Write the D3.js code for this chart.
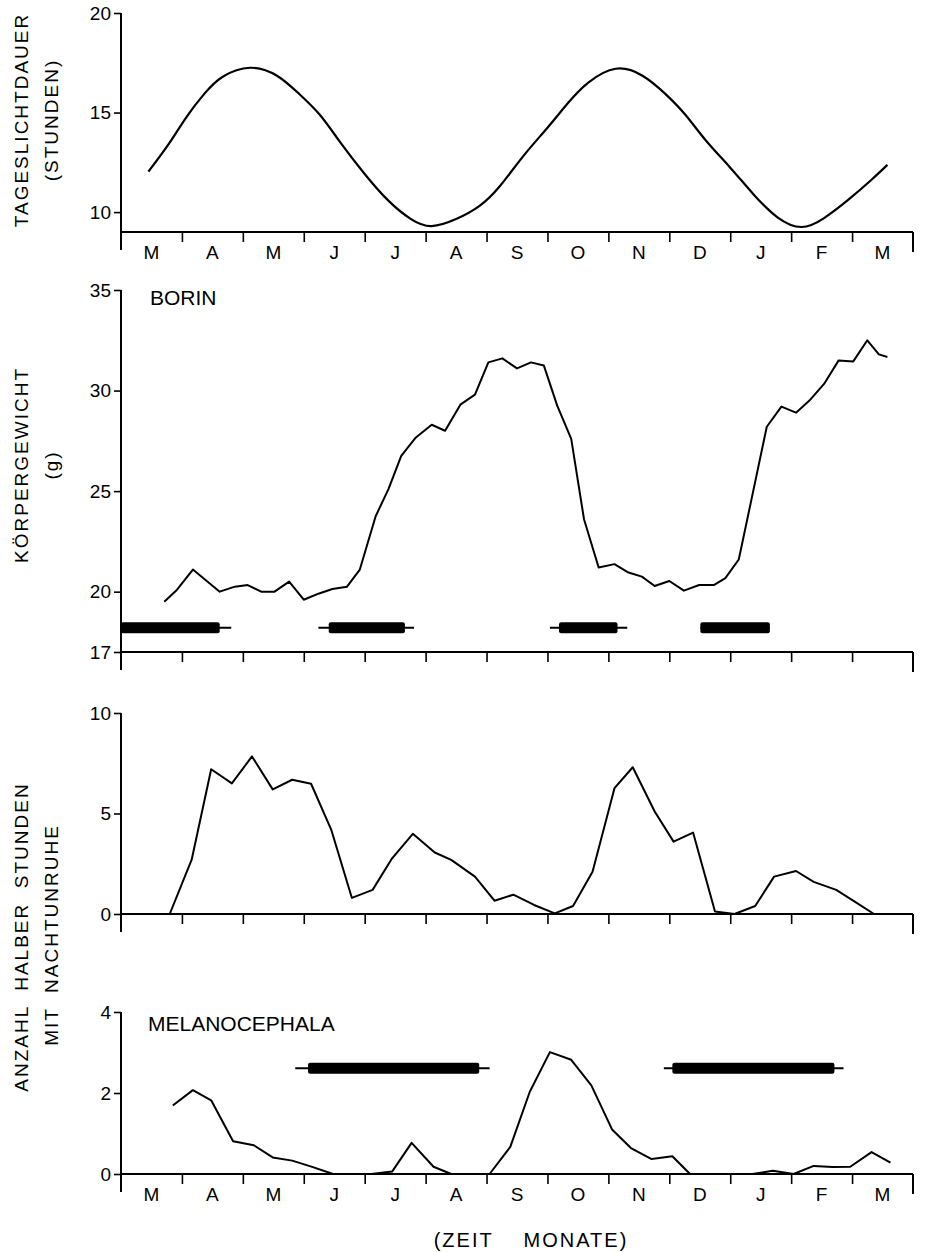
<!DOCTYPE html>
<html>
<head>
<meta charset="utf-8">
<script src="https://cdn.jsdelivr.net/npm/d3@7"></script>
<style>
body { margin: 0; background: #fff; }
svg { display: block; font-family: "Liberation Sans", Arial, Helvetica, sans-serif; }
</style>
</head>
<body>
<div id="chart"></div>
<script>
// month labels, March to March (x is measured in months from 1 March)
var months = ["M", "A", "M", "J", "J", "A", "S", "O", "N", "D", "J", "F", "M"];

// day length (hours)
var dayTime = [0.45, 0.79, 1.08, 1.37, 1.67, 2.12, 2.56, 2.92, 3.26, 3.6, 3.99, 4.38, 4.76, 5.1, 5.5, 5.88,
  6.21, 6.6, 6.99, 7.33, 7.67, 8.12, 8.56, 8.93, 9.26, 9.6, 9.99, 10.38, 10.77, 11.17, 11.54, 11.93, 12.31, 12.58];
var dayHours = [12.03, 13.45, 14.8, 15.95, 16.8, 17.25, 16.85, 15.95, 14.9, 13.5, 11.95, 10.6, 9.65, 9.3, 9.65, 10.3,
  11.27, 12.8, 14.2, 15.45, 16.5, 17.2, 16.85, 15.95, 14.9, 13.6, 12.27, 10.9, 9.75, 9.25, 9.7, 10.6, 11.6, 12.37];

// body weight Borin (g)
var weightTime = [0.71, 0.92, 1.18, 1.62, 1.87, 2.08, 2.3, 2.52, 2.76, 3.0, 3.24, 3.47, 3.71, 3.92, 4.18, 4.39,
  4.6, 4.84, 5.1, 5.32, 5.57, 5.81, 6.03, 6.26, 6.5, 6.73, 6.94, 7.16, 7.39, 7.6, 7.84, 8.1, 8.33, 8.55, 8.76,
  9.0, 9.24, 9.49, 9.73, 9.92, 10.14, 10.36, 10.6, 10.84, 11.08, 11.3, 11.54, 11.78, 12.02, 12.25, 12.44, 12.58];
var weightGrams = [19.5, 20.1, 21.1, 20.0, 20.25, 20.33, 20.0, 20.0, 20.5, 19.6, 19.9, 20.13, 20.25, 21.1, 23.75, 25.1,
  26.75, 27.67, 28.3, 28.0, 29.3, 29.8, 31.4, 31.6, 31.1, 31.4, 31.25, 29.25, 27.6, 23.6, 21.2, 21.37, 20.95, 20.75, 20.28,
  20.53, 20.05, 20.33, 20.33, 20.67, 21.6, 24.75, 28.2, 29.2, 28.9, 29.5, 30.33, 31.5, 31.45, 32.5, 31.8, 31.67];

// half hours with night restlessness, Borin
var borinTime = [0.0, 0.8, 1.16, 1.48, 1.82, 2.15, 2.49, 2.81, 3.12, 3.45, 3.79, 4.13, 4.45, 4.79, 5.15, 5.42, 5.81,
  6.13, 6.44, 6.78, 7.12, 7.42, 7.74, 8.1, 8.4, 8.76, 9.07, 9.39, 9.75, 10.07, 10.41, 10.72, 11.08, 11.37, 11.74, 12.05, 12.36];
var borinRest = [0, 0, 2.7, 7.2, 6.5, 7.84, 6.2, 6.68, 6.48, 4.2, 0.8, 1.2, 2.77, 3.99, 3.06, 2.69, 1.86,
  0.66, 0.96, 0.45, 0.03, 0.4, 2.1, 6.26, 7.3, 5.1, 3.6, 4.05, 0.12, 0.0, 0.4, 1.86, 2.14, 1.6, 1.2, 0.6, 0.0];

// half hours with night restlessness, Melanocephala
var melanoTime = [0.85, 1.18, 1.48, 1.84, 2.18, 2.49, 2.81, 3.15, 3.48, 3.82, 4.11, 4.45, 4.77, 5.13, 5.42, 6.05,
  6.39, 6.71, 7.04, 7.39, 7.72, 8.06, 8.37, 8.71, 9.05, 9.34, 10.36, 10.7, 11.04, 11.37, 11.68, 11.97, 12.32, 12.63];
var melanoRest = [1.69, 2.07, 1.82, 0.81, 0.71, 0.41, 0.33, 0.17, 0, 0, 0, 0.06, 0.77, 0.18, 0, 0,
  0.67, 2.03, 3.01, 2.82, 2.19, 1.1, 0.64, 0.37, 0.44, 0, 0, 0.08, 0, 0.2, 0.17, 0.18, 0.54, 0.28];

// moult bars: [whisker start, bar start, bar end, whisker end] in months
var borinBars = [[0, 0, 1.62, 1.81], [3.24, 3.41, 4.66, 4.81], [7.04, 7.19, 8.15, 8.31], [9.51, 9.51, 10.65, 10.65]];
var borinBarLevel = 18.2;
var melanoBars = [[2.86, 3.07, 5.88, 6.05], [8.91, 9.05, 11.71, 11.86]];
var melanoBarLevel = 2.61;

var width = 925, height = 1252;
var x0 = 121, x1 = 913;

var svg = d3.select("#chart").append("svg")
  .attr("width", width)
  .attr("height", height);

var x = d3.scaleLinear().domain([0, 13]).range([x0, x1]);

var yDay = d3.scaleLinear().domain([9, 20]).range([232, 13]);
var yWeight = d3.scaleLinear().domain([17, 35]).range([652, 290]);
var yBorin = d3.scaleLinear().domain([0, 10]).range([914, 713]);
var yMelano = d3.scaleLinear().domain([0, 4]).range([1174, 1012]);

function drawAxes(y, ticks, showMonths) {
  var base = y.range()[0], top = y.range()[1];
  var g = svg.append("g");

  var ya = g.append("g")
    .attr("transform", "translate(" + x0 + ",0)")
    .call(d3.axisLeft(y).tickValues(ticks).tickFormat(d3.format("d")).tickSize(7).tickSizeOuter(0).tickPadding(3));
  ya.select(".domain").remove();
  ya.selectAll("line").attr("stroke-width", 1.6);
  ya.selectAll("text")
    .attr("font-size", 19)
    .attr("font-family", null)
    .attr("fill", "#000");

  g.append("line")
    .attr("x1", x0).attr("x2", x0)
    .attr("y1", top).attr("y2", base + 18)
    .attr("stroke", "#000").attr("stroke-width", 2);

  g.append("line")
    .attr("x1", x0).attr("x2", x1)
    .attr("y1", base).attr("y2", base)
    .attr("stroke", "#000").attr("stroke-width", 2);

  var xa = g.append("g")
    .attr("transform", "translate(0," + base + ")")
    .call(d3.axisBottom(x).tickValues(d3.range(1, 13)).tickSize(10).tickFormat(""));
  xa.select(".domain").remove();
  xa.selectAll("line").attr("stroke-width", 1.6);

  g.append("line")
    .attr("x1", x(13)).attr("x2", x(13))
    .attr("y1", base).attr("y2", base + 20)
    .attr("stroke", "#000").attr("stroke-width", 2);

  if (showMonths) {
    g.selectAll(".month")
      .data(months).enter()
      .append("text")
      .attr("class", "month")
      .attr("x", (d, i) => x(i + 0.5))
      .attr("y", base + 27)
      .attr("text-anchor", "middle")
      .attr("font-size", 19)
      .text(d => d);
  }
}

function drawLine(times, values, y, curve, sw) {
  var pts = times.map((t, i) => [t, values[i]]);
  svg.append("path")
    .datum(pts)
    .attr("fill", "none")
    .attr("stroke", "#000")
    .attr("stroke-width", sw)
    .attr("stroke-linejoin", "round")
    .attr("d", d3.line().curve(curve).x(d => x(d[0])).y(d => y(d[1])));
}

function drawBars(bars, level, y) {
  var g = svg.append("g");
  g.selectAll(".whisker")
    .data(bars).enter()
    .append("line")
    .attr("x1", d => x(d[0])).attr("x2", d => x(d[3]))
    .attr("y1", y(level)).attr("y2", y(level))
    .attr("stroke", "#000").attr("stroke-width", 2);
  g.selectAll(".bar")
    .data(bars).enter()
    .append("rect")
    .attr("x", d => x(d[1]))
    .attr("width", d => x(d[2]) - x(d[1]))
    .attr("y", y(level) - 5.5)
    .attr("height", 11)
    .attr("rx", 2)
    .attr("fill", "#000");
}

drawAxes(yDay, [10, 15, 20], true);
drawAxes(yWeight, [17, 20, 25, 30, 35], false);
drawAxes(yBorin, [0, 5, 10], false);
drawAxes(yMelano, [0, 2, 4], true);

drawLine(dayTime, dayHours, yDay, d3.curveNatural, 2.2);
drawLine(weightTime, weightGrams, yWeight, d3.curveLinear, 2);
drawLine(borinTime, borinRest, yBorin, d3.curveLinear, 2);
drawLine(melanoTime, melanoRest, yMelano, d3.curveLinear, 2);

drawBars(borinBars, borinBarLevel, yWeight);
drawBars(melanoBars, melanoBarLevel, yMelano);

// species names
svg.append("text").attr("x", 150).attr("y", 305).attr("font-size", 21).text("BORIN");
svg.append("text").attr("x", 148).attr("y", 1031).attr("font-size", 21).text("MELANOCEPHALA");

// axis titles
function vText(tx, ty, txt) {
  svg.append("text")
    .attr("transform", "translate(" + tx + "," + ty + ") rotate(-90)")
    .attr("text-anchor", "middle")
    .attr("font-size", 19)
    .attr("letter-spacing", 2)
    .style("white-space", "pre")
    .text(txt);
}
vText(28, 120, "TAGESLICHTDAUER");
vText(58, 120, "(STUNDEN)");
vText(28, 465, "KÖRPERGEWICHT");
vText(58, 465, "(g)");
vText(28, 937, "ANZAHL  HALBER  STUNDEN");
vText(58, 935, "MIT  NACHTUNRUHE");

svg.append("text")
  .attr("x", 531).attr("y", 1247)
  .attr("text-anchor", "middle")
  .attr("font-size", 20)
  .attr("letter-spacing", 2)
  .style("white-space", "pre")
  .text("(ZEIT    MONATE)");
</script>
</body>
</html>
